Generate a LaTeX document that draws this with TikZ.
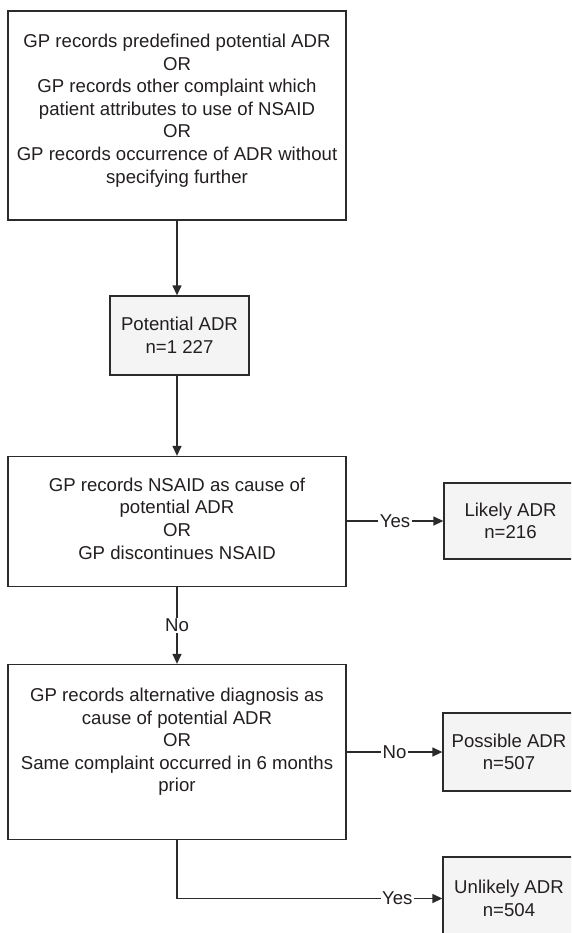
\documentclass[tikz,border=0pt]{standalone}
\usepackage{fontspec}
\setmainfont{Liberation Sans}
\usetikzlibrary{arrows.meta}
\definecolor{ln}{HTML}{2B2B2B}
\definecolor{tx}{HTML}{231F20}
\definecolor{fl}{HTML}{F4F4F4}
\begin{document}
\begin{tikzpicture}[x=1pt,y=-1pt,
  every node/.style={font=\fontsize{18.6}{22.6}\selectfont, text=tx},
  box/.style={draw=ln, line width=1.3pt, align=center, inner sep=0pt},
  gbox/.style={box, fill=fl},
  conn/.style={draw=ln, line width=1.3pt, -{Triangle[length=10pt,width=9pt]}},
  lab/.style={fill=white, inner sep=1.5pt}]
\clip (0,0) rectangle (571,933);
\fill[white] (0,0) rectangle (571,933);
\node[box, minimum width=338pt, minimum height=209pt] (b1) at (177,115.5)
  {GP records predefined potential ADR\\OR\\GP records other complaint which\\patient attributes to use of NSAID\\OR\\GP records occurrence of ADR without\\specifying further\rule[-14pt]{0pt}{1pt}};
\node[gbox, minimum width=139pt, minimum height=79pt] (b2) at (179.5,335.5)
  {Potential ADR\\n=1 227};
\node[box, minimum width=338pt, minimum height=130pt] (b3) at (177,521.5)
  {GP records NSAID as cause of\\potential ADR\\OR\\GP discontinues NSAID\rule[-6pt]{0pt}{1pt}};
\node[box, minimum width=338pt, minimum height=175pt] (b4) at (177,752)
  {GP records alternative diagnosis as\\cause of potential ADR\\OR\\Same complaint occurred in 6 months\\prior\rule[-24pt]{0pt}{1pt}};
\node[gbox, minimum width=133pt, minimum height=76pt] (likely) at (510.5,521)
  {Likely ADR\\n=216};
\node[gbox, minimum width=132pt, minimum height=78pt] (possible) at (509,752)
  {Possible ADR\\n=507};
\node[gbox, minimum width=132pt, minimum height=83pt] (unlikely) at (509,898.5)
  {Unlikely ADR\\n=504};
\draw[conn] (b1.south) -- (b1.south |- b2.north);
\draw[conn] (b1.south |- b2.south) -- (b3.north);
\draw[conn] (b3.south) -- node[lab] (no1) {No} (b4.north);
\draw[conn] (b3.east |- likely.west) -- node[lab] (yes1) {Yes} (likely.west);
\draw[conn] (b4.east |- possible.west) -- node[lab] (no2) {No} (possible.west);
\draw[conn] (b4.south) |- node[lab, pos=0.915] (yes2) {Yes} (unlikely.west);
\end{tikzpicture}
\end{document}
